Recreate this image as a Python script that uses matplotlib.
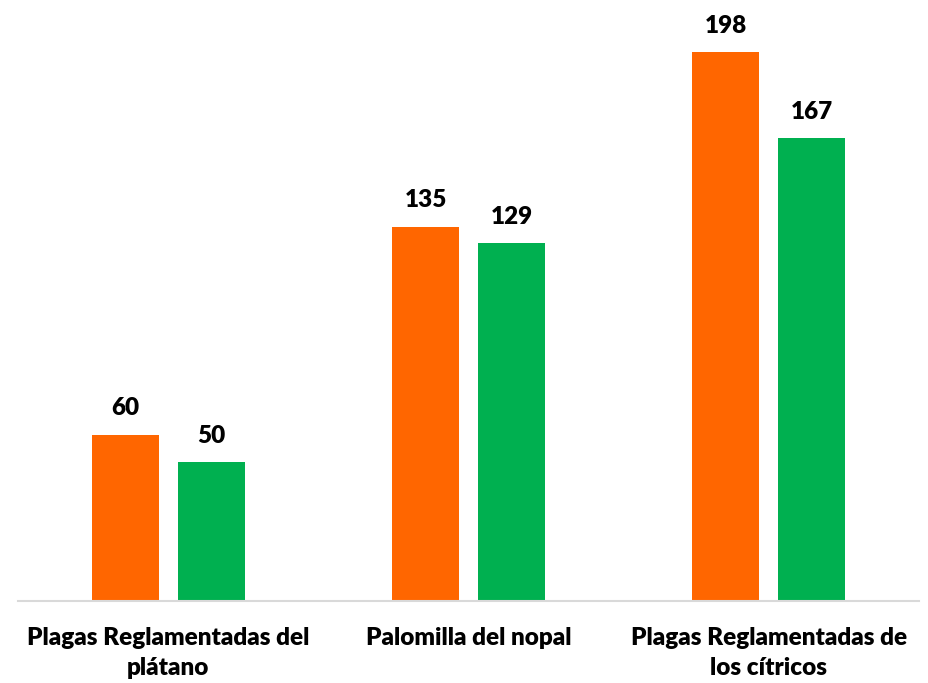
import numpy as np
import matplotlib.pyplot as plt

categories = ["Plagas Reglamentadas del\nplátano", "Palomilla del nopal", "Plagas Reglamentadas de\nlos cítricos"]
serie_a = [60, 135, 198]
serie_b = [50, 129, 167]

plt.rcParams['font.family'] = ['Lato', 'DejaVu Sans']

fig = plt.figure(figsize=(9.29, 6.83), dpi=100)
ax = fig.add_axes([18 / 929, 82 / 683, 901 / 929, 601 / 683])

x = np.arange(len(categories))
w = 0.223
off = 0.143
b1 = ax.bar(x - off, serie_a, w, color="#FF6600")
b2 = ax.bar(x + off, serie_b, w, color="#00B050")
ax.bar_label(b1, padding=11, fontsize=17.5, fontweight="heavy")
ax.bar_label(b2, padding=11, fontsize=17.5, fontweight="heavy")

ax.set_xlim(-0.5, 2.5)
ax.set_ylim(0, 601 / 2.773)
ax.set_xticks(x)
ax.set_xticklabels(categories, fontsize=17.5, fontweight="heavy", linespacing=1.45)
ax.tick_params(axis="x", length=0, pad=19)
ax.set_yticks([])
for s in ["top", "right", "left"]:
    ax.spines[s].set_visible(False)
ax.spines["bottom"].set_color("#D9D9D9")
ax.spines["bottom"].set_linewidth(1.5)

fig.savefig("out.png", dpi=100)
